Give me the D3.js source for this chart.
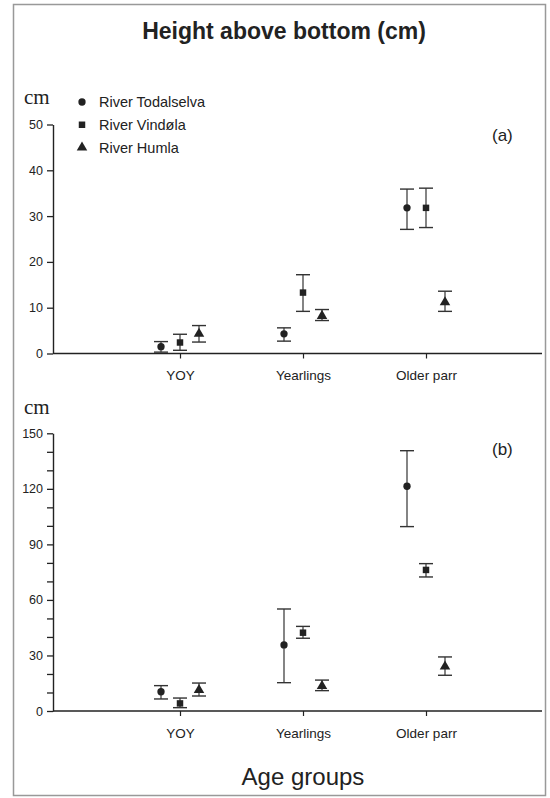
<!DOCTYPE html>
<html><head><meta charset="utf-8">
<script src="https://cdn.jsdelivr.net/npm/d3@7"></script>
<style>
body{margin:0;background:#fff;}
svg{display:block;font-family:"Liberation Sans",Arial,sans-serif;}
</style></head>
<body>
<script>
// ---- data ----
const categories = ["YOY", "Yearlings", "Older parr"];
const series = ["River Todalselva", "River Vindøla", "River Humla"];
const shapes = ["circle", "square", "triangle"];

// Panel (a): height above bottom, cm (mean, lower, upper) per series over categories
const aTodalselvaMean = [1.5, 4.3, 31.8];
const aTodalselvaLow  = [0.3, 2.7, 27.1];
const aTodalselvaHigh = [2.6, 5.6, 35.9];
const aVindolaMean = [2.4, 13.3, 31.8];
const aVindolaLow  = [0.7, 9.2, 27.5];
const aVindolaHigh = [4.2, 17.2, 36.1];
const aHumlaMean = [4.3, 8.2, 11.2];
const aHumlaLow  = [2.5, 7.2, 9.2];
const aHumlaHigh = [6.1, 9.6, 13.6];

// Panel (b)
const bTodalselvaMean = [10.4, 35.7, 121.4];
const bTodalselvaLow  = [6.5, 15.3, 99.6];
const bTodalselvaHigh = [13.7, 55.1, 140.6];
const bVindolaMean = [4.1, 42.3, 76.2];
const bVindolaLow  = [1.8, 39.3, 72.4];
const bVindolaHigh = [7.0, 45.7, 79.6];
const bHumlaMean = [11.3, 13.5, 24.0];
const bHumlaLow  = [8.1, 11.0, 19.3];
const bHumlaHigh = [15.1, 16.7, 29.2];

const aTicks = [0, 10, 20, 30, 40, 50];
const aLabels = [0, 10, 20, 30, 40, 50];
const bTicks = [0, 10, 20, 30, 40, 50, 60, 70, 80, 90, 100, 110, 120, 130, 140, 150];
const bLabels = [0, 30, 60, 90, 120, 150];

function rows(means, lows, highs) {
  const out = [];
  series.forEach((s, si) => categories.forEach((c, ci) => {
    out.push({series: s, shape: shapes[si], cat: c, mean: means[si][ci], low: lows[si][ci], high: highs[si][ci]});
  }));
  return out;
}
const dataA = rows([aTodalselvaMean, aVindolaMean, aHumlaMean], [aTodalselvaLow, aVindolaLow, aHumlaLow], [aTodalselvaHigh, aVindolaHigh, aHumlaHigh]);
const dataB = rows([bTodalselvaMean, bVindolaMean, bHumlaMean], [bTodalselvaLow, bVindolaLow, bHumlaLow], [bTodalselvaHigh, bVindolaHigh, bHumlaHigh]);

// ---- drawing ----
const W = 550, H = 798;
const ink = "#222";
const svg = d3.select("body").append("svg").attr("width", W).attr("height", H);

svg.append("rect").attr("x", 13.5).attr("y", 4.5).attr("width", 532).attr("height", 791)
  .attr("fill", "#fff").attr("stroke", "#999").attr("stroke-width", 1.5);

svg.append("text").attr("x", 284).attr("y", 39).attr("text-anchor", "middle")
  .attr("font-weight", "bold").attr("font-size", 23).attr("fill", ink)
  .text("Height above bottom (cm)");

const x = d3.scalePoint().domain(categories).range([180, 426]);
const dx = d3.scalePoint().domain(series).range([-19, 19]);
const axisLeftX = 53, axisRightX = 542;

const sym = {
  circle: d3.symbol().type(d3.symbolCircle).size(42),
  square: d3.symbol().type(d3.symbolSquare).size(42),
  triangle: d3.symbol().type(d3.symbolTriangle).size(48)
};

function panel(data, domainMax, y0, y1, ticks, labels, tag, cmY, tagY) {
  const y = d3.scaleLinear().domain([0, domainMax]).range([y0, y1]);
  const g = svg.append("g");

  const ya = g.append("g").attr("transform", `translate(${axisLeftX},0)`)
    .call(d3.axisLeft(y).tickValues(ticks).tickSize(6).tickPadding(4).tickSizeOuter(0)
      .tickFormat(d => labels.includes(d) ? String(d) : ""));
  ya.select(".domain").attr("stroke", ink).attr("stroke-width", 1.4);
  ya.selectAll(".tick line").attr("stroke", ink).attr("stroke-width", 1.3);
  ya.selectAll("text").attr("font-size", 12.5).attr("fill", ink)
    .attr("font-family", "Liberation Sans, Arial, sans-serif");

  // x axis
  const xa = g.append("g").attr("transform", `translate(0,${y0})`)
    .call(d3.axisBottom(x).tickSize(5).tickPadding(12).tickSizeOuter(0));
  xa.select(".domain").attr("d", `M${axisLeftX},0H${axisRightX}`).attr("stroke", ink).attr("stroke-width", 1.6);
  xa.selectAll(".tick line").attr("stroke", ink).attr("stroke-width", 1.2);
  xa.selectAll("text").attr("font-size", 13.5).attr("fill", ink)
    .attr("font-family", "Liberation Sans, Arial, sans-serif");

  // cm label
  g.append("text").attr("x", 24).attr("y", cmY).attr("font-family", "Liberation Serif, Times New Roman, serif")
    .attr("font-size", 21).attr("fill", ink).text("cm");

  // tag
  g.append("text").attr("x", 492).attr("y", tagY)
    .attr("font-size", 17).attr("fill", ink).text(tag);

  // error bars
  const pts = g.append("g").selectAll("g").data(data).join("g")
    .attr("transform", d => `translate(${x(d.cat) + dx(d.series)},0)`);
  pts.append("line").attr("y1", d => y(d.low)).attr("y2", d => y(d.high))
    .attr("stroke", "#333").attr("stroke-width", 1.2);
  pts.append("line").attr("x1", -7).attr("x2", 7).attr("y1", d => y(d.high)).attr("y2", d => y(d.high))
    .attr("stroke", "#333").attr("stroke-width", 1.4);
  pts.append("line").attr("x1", -7).attr("x2", 7).attr("y1", d => y(d.low)).attr("y2", d => y(d.low))
    .attr("stroke", "#333").attr("stroke-width", 1.4);
  pts.append("path").attr("d", d => sym[d.shape]())
    .attr("transform", d => `translate(0,${y(d.mean)})`).attr("fill", ink);
  return y;
}

const yA = panel(dataA, 50, 353.5, 124.5, aTicks, aLabels, "(a)", 104, 141);
const yB = panel(dataB, 150, 711, 433.3, bTicks, bLabels, "(b)", 414, 455);

// legend
const legY = d3.scalePoint().domain(series).range([102, 147.5]);
const leg = svg.append("g").selectAll("g").data(series).join("g")
  .attr("transform", s => `translate(82,${legY(s)})`);
leg.append("path").attr("d", (s, i) => sym[shapes[i]]()).attr("fill", ink);
leg.append("text").attr("x", 17).attr("dy", "0.36em").attr("font-size", 14.5).attr("fill", ink).text(s => s);

// x title
svg.append("text").attr("x", 303).attr("y", 785).attr("text-anchor", "middle")
  .attr("font-size", 24).attr("fill", ink).text("Age groups");
</script>
</body></html>
